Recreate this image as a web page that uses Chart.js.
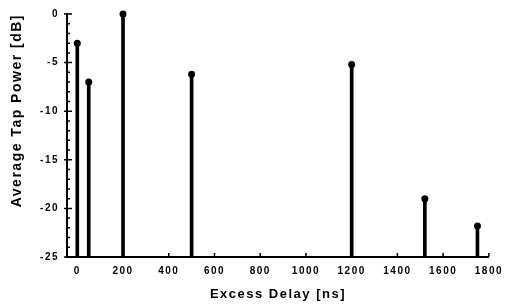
<!DOCTYPE html>
<html>
<head>
<meta charset="utf-8">
<script src="https://cdn.jsdelivr.net/npm/chart.js@4/dist/chart.umd.min.js"></script>
<style>
  html, body { margin: 0; padding: 0; background: #fff; }
</style>
</head>
<body>
<canvas id="tapChart" width="508" height="305"></canvas>
<script>
// tap delays (ns) and average power (dB)
const delays = [0, 50, 200, 500, 1200, 1520, 1750];
const powers = [-3, -7, 0, -6.2, -5.2, -19, -21.8];

const xTicks = [0, 200, 400, 600, 800, 1000, 1200, 1400, 1600, 1800];
const yTicks = [-25, -20, -15, -10, -5, 0];
const yMin = -25, yMax = 0;

// stems start at the bottom of the axis
let stems = delays.map((d, i) => ({ x: d, y: [yMin, powers[i]] }));
let tips = delays.map((d, i) => ({ x: d, y: powers[i] }));

// same letter spacing as the scanned figure
const spacing = {
    id: "spacing",
    beforeDraw(chart) {
        chart.ctx.letterSpacing = "1.5px";
    }
};

// small inward tick marks on both axes
const tickMarks = {
    id: "tickMarks",
    beforeDatasetsDraw(chart) {
        let { ctx, chartArea, scales: { x, y } } = chart;
        ctx.save();
        ctx.strokeStyle = "#000";
        ctx.lineWidth = 1.5;
        ctx.beginPath();
        for (let v = yMin; v <= yMax; v++) {
            let py = y.getPixelForValue(v);
            let major = v % 5 === 0;
            ctx.moveTo(chartArea.left - (major ? 3 : 0), py);
            ctx.lineTo(chartArea.left + (major ? 5 : 3), py);
        }
        xTicks.forEach(v => {
            let px = x.getPixelForValue(v);
            ctx.moveTo(px, chartArea.bottom);
            ctx.lineTo(px, chartArea.bottom - 4);
        });
        ctx.stroke();
        ctx.restore();
    }
};

const fontFamily = "'Liberation Sans', Arial, sans-serif";
const tickFont = { family: fontFamily, size: 10, weight: "bold" };

let tapChart = new Chart(document.getElementById("tapChart"), {
    type: "bar",
    data: {
        datasets: [{
            type: "bar",
            data: stems,
            backgroundColor: "#000",
            barThickness: 3,
            order: 2
        }, {
            type: "scatter",
            data: tips,
            pointRadius: 3.5,
            pointBackgroundColor: "#000",
            pointBorderWidth: 0,
            clip: false,
            order: 1
        }]
    },
    options: {
        responsive: false,
        animation: false,
        layout: { padding: { top: 9, right: 16, left: 0, bottom: 0 } },
        plugins: { legend: { display: false }, tooltip: { enabled: false } },
        scales: {
            x: {
                type: "linear",
                offset: false,
                min: -45,
                max: 1800,
                afterBuildTicks: scale => { scale.ticks = xTicks.map(v => ({ value: v })); },
                afterFit: scale => { scale.height = 48; },
                grid: { display: false, drawTicks: false, offset: false },
                border: { display: true, color: "#000", width: 2 },
                ticks: { color: "#000", font: tickFont, padding: 8, maxRotation: 0, callback: v => String(v) },
                title: {
                    display: true, text: "Excess Delay [ns]", color: "#000",
                    font: { family: fontFamily, size: 13, weight: "bold" },
                    padding: { top: 0, bottom: 3 }
                }
            },
            y: {
                min: yMin,
                max: yMax,
                afterBuildTicks: scale => { scale.ticks = yTicks.map(v => ({ value: v })); },
                afterFit: scale => { scale.width = 67; },
                grid: { display: false, drawTicks: false },
                border: { display: true, color: "#000", width: 2 },
                ticks: { color: "#000", font: tickFont, padding: 8, callback: v => String(v) },
                title: {
                    display: true, text: "Average Tap Power [dB]", color: "#000",
                    font: { family: fontFamily, size: 14, weight: "bold" },
                    align: "end",
                    padding: { top: 9, bottom: 0 }
                }
            }
        }
    },
    plugins: [spacing, tickMarks]
});
</script>
</body>
</html>
